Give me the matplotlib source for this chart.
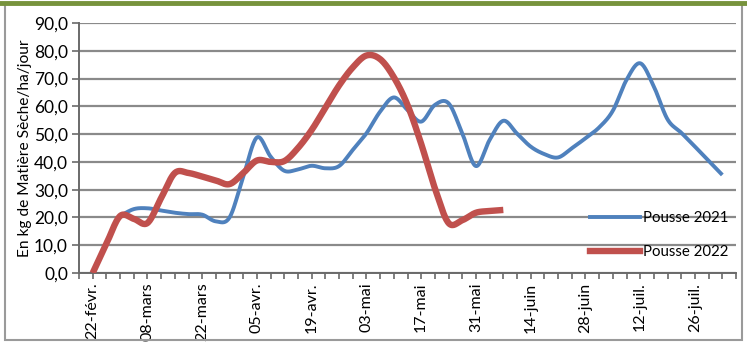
import numpy as np
import matplotlib
matplotlib.use('Agg')
import matplotlib.pyplot as plt
from matplotlib.lines import Line2D
from matplotlib.patches import Rectangle

# Dates labelled on the category axis (one label every 4 categories, twice-weekly readings)
date_labels = ['22-févr.', '08-mars', '22-mars', '05-avr.', '19-avr.', '03-mai',
               '17-mai', '31-mai', '14-juin', '28-juin', '12-juil.', '26-juil.']
label_step = 4
n_categories = 47

# Pousse 2021, starts at category 2
pousse_2021_start = 2
pousse_2021 = [20.5, 23.0, 23.3, 22.5, 21.7, 21.2, 21.0, 18.6, 20.0, 34.7,
               48.8, 41.9, 36.8, 37.3, 38.6, 37.7, 38.5, 44.3, 50.3, 58.1,
               63.2, 58.7, 54.5, 60.5, 61.1, 50.3, 38.5, 47.9, 54.8, 50.2,
               45.5, 42.8, 41.6, 44.9, 48.5, 52.4, 58.4, 69.5, 75.5, 67.1,
               55.3, 50.5, 45.5, 40.4, 35.3]

# Pousse 2022, starts at category 0
pousse_2022_start = 0
pousse_2022 = [0.0, 10.5, 20.5, 19.5, 18.0, 27.0, 36.0, 36.0, 34.7, 33.3,
               32.0, 36.0, 40.5, 40.0, 40.3, 45.0, 51.5, 59.5, 67.5, 74.0,
               78.3, 77.0, 70.5, 60.5, 46.5, 30.5, 18.0, 19.0, 21.7, 22.3,
               22.7]

BLUE = '#4F81BD'
RED = '#C0504D'
GRID = '#8a8a8a'
AXIS = '#6a6a6a'


def smooth(x, y, steps=20):
    # bezier smoothing through every point, like the office "smoothed line" option
    x = np.asarray(x, float)
    y = np.asarray(y, float)
    px = np.concatenate([[x[0]], x, [x[-1]]])
    py = np.concatenate([[y[0]], y, [y[-1]]])
    t = np.linspace(0, 1, steps)
    xs, ys = [], []
    for i in range(1, len(px) - 2):
        p0 = np.array([px[i], py[i]])
        p3 = np.array([px[i + 1], py[i + 1]])
        c1 = p0 + (p3 - np.array([px[i - 1], py[i - 1]])) / 6
        c2 = p3 - (np.array([px[i + 2], py[i + 2]]) - p0) / 6
        b = ((1 - t) ** 3)[:, None] * p0 + (3 * (1 - t) ** 2 * t)[:, None] * c1 \
            + (3 * (1 - t) * t ** 2)[:, None] * c2 + (t ** 3)[:, None] * p3
        xs.append(b[:, 0])
        ys.append(b[:, 1])
    return np.concatenate(xs), np.concatenate(ys)


plt.rcParams['font.family'] = ['Lato', 'DejaVu Sans']

fig = plt.figure(figsize=(7.47, 3.49), dpi=100)
W, H = 747, 349
ax = fig.add_axes([79 / W, 1 - 273 / H, (736 - 79) / W, (273 - 23) / H])

x21 = np.arange(pousse_2021_start, pousse_2021_start + len(pousse_2021))
x22 = np.arange(pousse_2022_start, pousse_2022_start + len(pousse_2022))
sx, sy = smooth(x21, pousse_2021)
ax.plot(sx, sy, color=BLUE, lw=2.8, solid_capstyle='butt', zorder=3)
sx, sy = smooth(x22, pousse_2022)
ax.plot(sx, sy, color=RED, lw=4.6, solid_capstyle='butt', zorder=4)

ax.set_xlim(-1, n_categories)
ax.set_ylim(0, 90)
ax.set_yticks(np.arange(0, 91, 10))
ax.set_yticklabels([f'{v:.1f}'.replace('.', ',') for v in range(0, 91, 10)], fontsize=12.5)
ax.yaxis.grid(True, color=GRID, lw=1.6)
ax.set_axisbelow(True)

ax.set_xticks(np.arange(-1, n_categories + 1))
labels = [''] * (n_categories + 2)
for k, lab in enumerate(date_labels):
    labels[1 + k * label_step] = lab
ax.set_xticklabels(labels, rotation=90, fontsize=11.5)
ax.tick_params(axis='x', length=4, width=1.2, color=AXIS, pad=3)
ax.tick_params(axis='y', length=5, width=1.2, color=AXIS, pad=3)

for side in ['top', 'right']:
    ax.spines[side].set_visible(False)
for side in ['left', 'bottom']:
    ax.spines[side].set_color(AXIS)
    ax.spines[side].set_linewidth(1.4)

ax.set_ylabel('En kg de Matière Sèche/ha/jour', fontsize=11.2, labelpad=1)

handles = [Line2D([], [], color=BLUE, lw=2.8), Line2D([], [], color=RED, lw=4.6)]
ax.legend(handles, ['Pousse 2021', 'Pousse 2022'], loc='upper left',
          bbox_to_anchor=(590 / W, 1 - 211 / H), bbox_transform=fig.transFigure,
          frameon=False, fontsize=10.8, handlelength=3.3, handletextpad=0.25,
          labelspacing=1.35, borderpad=0, borderaxespad=0)

# chart frame with the green rule along the top
fig.patches.append(Rectangle((5 / W, 9 / H), 737 / W, 336 / H, transform=fig.transFigure,
                             fill=False, edgecolor='#9a9a9a', lw=1.5))
fig.add_artist(Line2D([0, 1], [1 - 3 / H, 1 - 3 / H], transform=fig.transFigure,
                      color='#77933C', lw=3.5))

fig.savefig('out.png', dpi=100)
plt.close(fig)
